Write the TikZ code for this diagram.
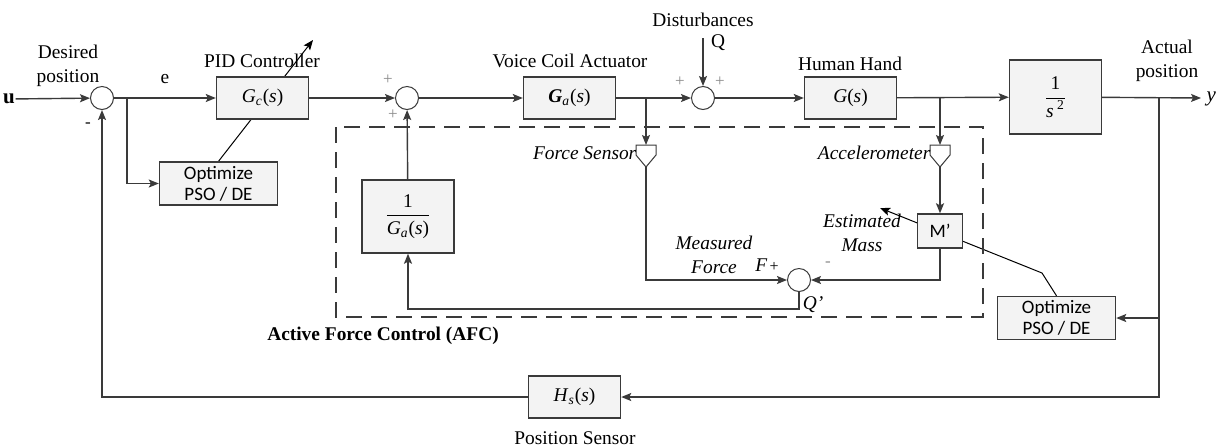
\documentclass[tikz,border=0pt]{standalone}
\usepackage{amsmath}
\usepackage{fontspec}
\setmainfont{Liberation Serif}
\newfontfamily\optfont{Carlito}
\usepackage{tikz}
\usetikzlibrary{positioning,arrows.meta,backgrounds}
\definecolor{LineGray}{HTML}{3A3A3A}
\definecolor{SignGray}{HTML}{8A8A8A}
\definecolor{BoxFill}{HTML}{F3F3F3}

% transfer function in text italics: \tfn{G}{c} -> G_c(s)
\newcommand{\tfn}[2]{\textit{#1}\textsubscript{\textit{#2}}(\textit{s})}

\tikzset{
  blk/.style={draw=LineGray,fill=BoxFill,line width=0.7pt,
    minimum width=46pt,minimum height=21pt,inner sep=0pt},
  sumj/.style={circle,draw=LineGray,fill=white,line width=0.5pt,
    minimum size=11.5pt,inner sep=0pt},
  optbox/.style={blk,minimum width=59pt,minimum height=21.5pt,align=center,
    font=\optfont\fontsize{9.5}{10.5}\selectfont},
  lbl/.style={align=center,inner sep=0pt},
  ilbl/.style={lbl,font=\itshape\fontsize{9.7}{12}\selectfont},
  sgn/.style={inner sep=0pt,text=SignGray,font=\fontsize{8.5}{8.5}\selectfont},
  afcbox/.style={dash pattern=on 8pt off 4.5pt,line width=1.1pt}
}

\begin{document}
\begin{tikzpicture}[x=0.5pt,y=-0.5pt,>={Stealth[length=5pt,width=4pt,inset=1pt]},
    color=LineGray,text=black,line width=0.7pt,font=\fontsize{9.7}{12}\selectfont]
  \useasboundingbox (0,0) rectangle (1224,446);

  % forward path
  \node[lbl,font=\bfseries\fontsize{10.5}{12}\selectfont] (u) at (9,99) {u};
  \node[sumj] (s1) at (102,98) {};
  \node[blk] (gc) at (262.5,98) {\tfn{G}{c}};
  \node[optbox] (opt1) at (218.5,183.5) {Optimize\\PSO / DE};
  \node[sumj] (s2) at (407,98) {};
  \node[blk] (ga) at (569.5,98) {\tfn{\textbf{G}}{a}};
  \node[sumj] (s3) at (703,98) {};
  \node[blk] (hand) at (850.5,98) {\textit{G}(\textit{s})};
  \node[blk,minimum height=37pt] (plant) at (1055.5,97) {$\dfrac{\text{1}}{\text{\textit{s}\,\textsuperscript{2}}}$};
  \node[ilbl,anchor=west,font=\itshape\fontsize{10.5}{12}\selectfont] (y) at (1206,99) {y};

  % AFC loop
  \node[blk,minimum height=36.5pt] (inv) at (408,216.5) {$\dfrac{\text{1}}{\text{\tfn{G}{a}}}$};
  \node[blk,minimum width=22.5pt,minimum height=17pt,font=\optfont\fontsize{9.5}{10}\selectfont] (mass) at (940,231) {M’};
  \node[sumj] (s4) at (799,280) {};
  \node[optbox] (opt2) at (1056.5,318) {Optimize\\PSO / DE};
  \node[blk] (hs) at (574.5,397) {\tfn{H}{s}};

  % sensors
  \coordinate (fs) at (646,145);
  \coordinate (fsb) at (646,167);
  \coordinate (acc) at (940,145);
  \coordinate (accb) at (940,167);
  \draw[fill=white,line width=0.5pt] (fs) ++(-10,0) -- ++(20,0) -- ++(0,10) -- (fsb) -- ++(-10,-12) -- cycle;
  \draw[fill=white,line width=0.5pt] (acc) ++(-10,0) -- ++(20,0) -- ++(0,10) -- (accb) -- ++(-10,-12) -- cycle;

  % free ends
  \coordinate (ebr) at (127,98);
  \coordinate (dtop) at (703,38);
  \coordinate (yend) at (1201,98);
  \coordinate (ybr) at (1159,98);
  \coordinate (pidtip) at (313,40);
  \coordinate (knee) at (1042,273);
  \coordinate (masstip) at (880,208);

  % labels
  \node[lbl] (desired) at (68,66) {Desired\\position};
  \node[lbl] (pid) at (262,61) {PID Controller};
  \node[lbl] (vca) at (570,61) {Voice Coil Actuator};
  \node[lbl] (dist) at (703,20) {Disturbances};
  \node[lbl] (q) at (718,43) {Q};
  \node[lbl] (hh) at (850,64) {Human Hand};
  \node[lbl] (actual) at (1167,61) {Actual\\position};
  \node[ilbl,anchor=east] (fslbl) at (637,153) {Force Sensor};
  \node[ilbl,anchor=east] (acclbl) at (931,153) {Accelerometer};
  \node[ilbl] (est) at (862,233) {Estimated\\Mass};
  \node[ilbl] (meas) at (714,255) {Measured\\Force};
  \node[lbl] (fplus) at (767,265) {\textit{F}\kern1pt{\fontsize{8}{8}\selectfont+}};
  \node[ilbl] (qp) at (813,305) {Q'};
  \node[lbl,font=\bfseries\fontsize{9.7}{12}\selectfont] (afc) at (383,336) {Active Force Control (AFC)};
  \node[lbl] (pos) at (575,438) {Position Sensor};

  % signs
  \node[sgn,text=black] at (88,125) {-};
  \node[sgn] at (388,80) {+};
  \node[sgn] at (393,115) {+};
  \node[sgn] at (680,82) {+};
  \node[sgn] at (720,82) {+};
  \node[sgn] at (828,264) {-};

  % connectors
  \draw[->] (u) -- (s1);
  \draw[->] (s1) -- (gc) node[lbl,midway,above=7pt] {e};
  \draw[->] (ebr) |- (opt1);
  \draw[->] (gc) -- (s2);
  \draw[->] (s2) -- (ga);
  \draw[->] (ga) -- (s3);
  \draw[->] (fs |- ga) -- (fs);
  \draw[->] (dtop) -- (s3);
  \draw[->] (s3) -- (hand);
  \draw[->] (hand) -- (plant);
  \draw[->] (acc |- hand) -- (acc);
  \draw[->] (plant) -- (yend);
  \draw[->] (ybr) |- (hs);
  \draw[->] (ybr |- opt2) -- (opt2);
  \draw[->] (hs) -| (s1);
  \draw[->] (accb) -- (mass);
  \draw[->] (mass) |- (s4);
  \draw[->] (fsb) |- (s4);
  \draw[->] (s4.south) -- ++(0,17) -| (inv);
  \draw[->] (inv) -- (s2);

  % tuning lines behind the boxes
  \begin{scope}[on background layer]
    \draw[->,line width=0.5pt] (opt1.north) -- (pidtip);
    \draw[->,line width=0.5pt] (opt2.north) -- (knee) -- (masstip);
  \end{scope}

  % AFC region
  \draw[afcbox] (336,127) rectangle (983,317);
\end{tikzpicture}
\end{document}
